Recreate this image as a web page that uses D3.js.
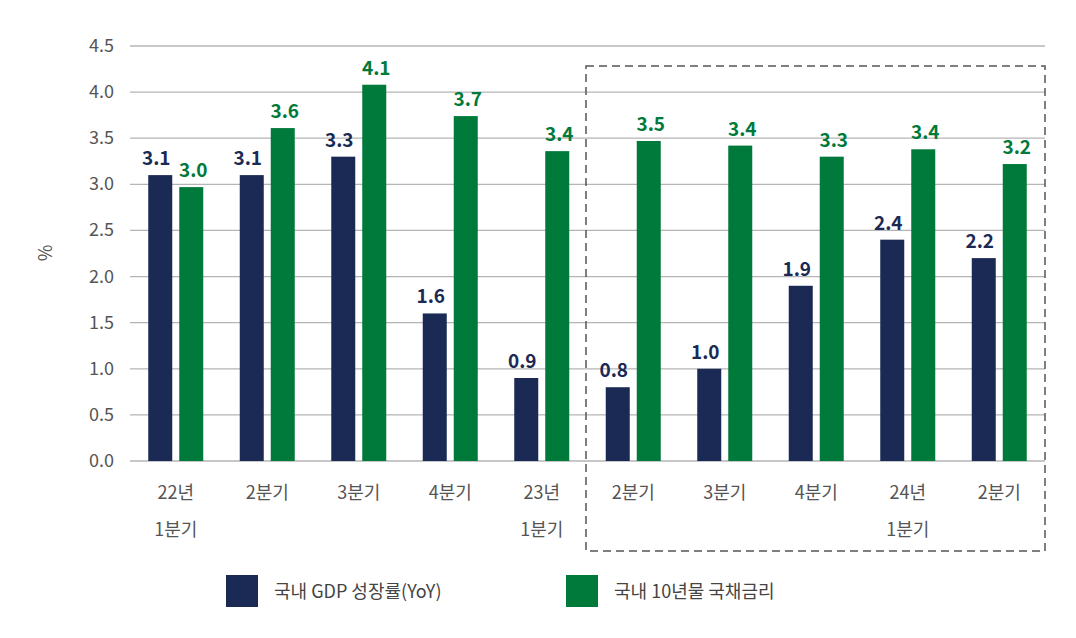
<!DOCTYPE html>
<html><head><meta charset="utf-8">
<script src="https://cdn.jsdelivr.net/npm/d3@7"></script>
<style>body{margin:0;background:#fff}text{font-family:"Noto Sans CJK KR","Noto Sans",sans-serif}</style>
</head><body><svg id="c" width="1076" height="638"></svg>
<script>
const categories=[["22년","1분기"],["2분기"],["3분기"],["4분기"],["23년","1분기"],["2분기"],["3분기"],["4분기"],["24년","1분기"],["2분기"]];
const gdp=[3.1,3.1,3.3,1.6,0.9,0.8,1.0,1.9,2.4,2.2];
const rate=[2.97,3.61,4.08,3.74,3.36,3.47,3.42,3.30,3.38,3.22];
const rateLabels=["3.0","3.6","4.1","3.7","3.4","3.5","3.4","3.3","3.4","3.2"];
const yTicks=[0,0.5,1,1.5,2,2.5,3,3.5,4,4.5];
const navy="#1b2a54",green="#007a3a";
const svg=d3.select("#c");
const L=130,R=1045,T=46,B=461;
const x=d3.scaleBand().domain(d3.range(10)).range([L,R]);
const y=d3.scaleLinear().domain([0,4.5]).range([B,T]);
yTicks.forEach(t=>{
 svg.append("line").attr("x1",L).attr("x2",R).attr("y1",y(t)).attr("y2",y(t)).attr("stroke","#b5b5b5").attr("stroke-width",1.3);
 svg.append("text").attr("x",L-16).attr("y",y(t)+6).attr("text-anchor","end").attr("font-size",18).attr("fill","#555").text(t.toFixed(1));
});
svg.append("text").attr("transform","translate(52,253) rotate(-90)").attr("text-anchor","middle").attr("font-size",18).attr("fill","#555").text("%");
const bw=24,gap=7;
d3.range(10).forEach(i=>{
 const c=x(i)+x.bandwidth()/2;
 const x1=c-gap/2-bw,x2=c+gap/2;
 svg.append("rect").attr("x",x1).attr("width",bw).attr("y",y(gdp[i])).attr("height",B-y(gdp[i])).attr("fill",navy);
 svg.append("rect").attr("x",x2).attr("width",bw).attr("y",y(rate[i])).attr("height",B-y(rate[i])).attr("fill",green);
 svg.append("text").attr("x",x1+bw/2-4).attr("y",y(gdp[i])-10).attr("text-anchor","middle").attr("font-size",19).attr("font-weight","bold").attr("fill",navy).text(gdp[i].toFixed(1));
 svg.append("text").attr("x",x2+bw/2+2).attr("y",y(rate[i])-10).attr("text-anchor","middle").attr("font-size",19).attr("font-weight","bold").attr("fill",green).text(rateLabels[i]);
 categories[i].forEach((s,k)=>svg.append("text").attr("x",c).attr("y",499+k*37).attr("text-anchor","middle").attr("font-size",18).attr("fill","#555").text(s));
});
svg.append("rect").attr("x",586).attr("y",66).attr("width",459).attr("height",485).attr("fill","none").attr("stroke","#555").attr("stroke-width",1.5).attr("stroke-dasharray","8,5");
svg.append("rect").attr("x",226).attr("y",575).attr("width",32).attr("height",32).attr("fill",navy);
svg.append("text").attr("x",274).attr("y",598).attr("font-size",18).attr("fill","#444").text("국내 GDP 성장률(YoY)");
svg.append("rect").attr("x",566).attr("y",575).attr("width",32).attr("height",32).attr("fill",green);
svg.append("text").attr("x",614).attr("y",598).attr("font-size",18).attr("fill","#444").text("국내 10년물 국채금리");
</script></body></html>
